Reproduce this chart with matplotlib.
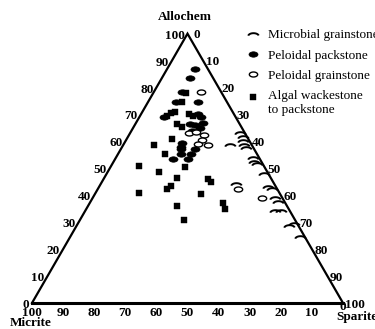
import numpy as np
import matplotlib
matplotlib.use("Agg")
import matplotlib.pyplot as plt
from matplotlib.path import Path
from matplotlib.transforms import Affine2D
from matplotlib.legend_handler import HandlerLine2D

plt.rcParams["font.family"] = ["Liberation Serif", "DejaVu Serif"]

# ternary composition in percent: (Allochem, Sparite), Micrite = remainder
microbial_allochem = [63, 58.5, 61.5, 60, 58.5, 57.5, 54, 52.5, 51.5, 48, 44, 43, 42.5,
                      39, 37.5, 34, 34, 28.5, 29.5, 24.5]
microbial_sparite = [35.5, 34.5, 37, 38, 39, 40, 44, 45, 46.5, 50.5, 43.5, 54.5, 56,
                     58.5, 60.5, 61, 63, 68.5, 69.5, 74]

packstone_allochem = [87, 83.5, 78.5, 74.5, 74.5, 69, 70, 69, 66.5, 66, 65, 67, 64,
                      59.5, 58, 57, 55.5, 53.5, 57, 55.5, 53.5]
packstone_sparite = [9, 9, 9, 16, 9, 8, 18.5, 20, 17.5, 19.5, 21.5, 21.5, 19.5,
                     18.5, 19, 19.5, 20, 18.5, 24, 23.5, 23.5]

grainstone_allochem = [78.5, 63, 63.5, 62.5, 60.5, 59, 58.5, 42.5, 39]
grainstone_sparite = [15, 19, 21, 24, 24.5, 24, 27.5, 45, 54.5]

algal_allochem = [78, 74.5, 71, 70.5, 69.5, 70, 69.5, 66.5, 65.5, 61, 55.5, 50.5, 58.5,
                  51, 48.5, 46.5, 42.5, 43.5, 41, 46, 45, 40.5, 36, 31, 37, 35]
algal_sparite = [10.5, 11, 10.5, 9.5, 8.5, 15.5, 17, 13.5, 15.5, 14.5, 15, 24, 10,
                 9, 16.5, 23.5, 22, 23, 14, 33.5, 35, 34, 28.5, 33.5, 43, 44.5]

ticks = list(range(0, 101, 10))

SQ3 = np.sqrt(3) / 2


def to_xy(allochem, sparite):
    a = np.asarray(allochem, dtype=float) / 100.0
    s = np.asarray(sparite, dtype=float) / 100.0
    return s + a / 2, a * SQ3


W, H = 375, 329
X0, Y0, SIDE = 32, 303, 311   # triangle left corner and side length in pixels
PX = 1.0 / SIDE

fig = plt.figure(figsize=(W / 100, H / 100), dpi=100)
ax = fig.add_axes([0, 0, 1, 1])
ax.set_xlim(-X0 * PX, (W - X0) * PX)
ax.set_ylim(-(H - Y0) * PX, Y0 * PX)
ax.axis("off")


def pix(px, py):
    return (px - X0) * PX, (Y0 - py) * PX


# triangle
ax.plot([0, 0.5, 1], [0, SQ3, 0], color="k", lw=1.6, solid_joinstyle="miter", zorder=2)
ax.plot([0, 1], [0, 0], color="k", lw=2.2, solid_capstyle="projecting", zorder=2)

# tick labels
tick_kw = dict(fontsize=9.5, fontweight="bold", color="k")
for v in ticks:
    x, y = to_xy(v, 0)                       # Allochem on left side
    ax.text(x - 3 * PX, y - 2 * PX, str(v), ha="right", va="center", **tick_kw)
    x, y = to_xy(100 - v, v)                 # Sparite on right side
    dx = 6 if v == 0 else 2.5
    ax.text(x + dx * PX, y - 1.5 * PX, str(v), ha="left", va="center", **tick_kw)
    x, y = to_xy(0, 100 - v)                 # Micrite along bottom
    dy = 4 if v == 0 else 10
    ax.text(x, y - dy * PX, str(v), ha="center", va="center", **tick_kw)

lab_kw = dict(fontsize=9.5, fontweight="bold", color="k")
ax.text(*pix(185, 17), "Allochem", ha="center", va="center", **lab_kw)
ax.text(*pix(31, 323), "Micrite", ha="center", va="center", **lab_kw)
ax.text(*pix(336, 317), "Sparite", ha="left", va="center", **lab_kw)

# markers
t = np.linspace(np.radians(12), np.radians(172), 30)
arc_marker = Path(np.column_stack([np.cos(t), 0.55 * np.sin(t) - 0.3]))
ellipse_marker = Path.unit_circle().transformed(Affine2D().scale(1, 0.6))

x, y = to_xy(microbial_allochem, microbial_sparite)
ax.plot(x, y, ls="none", marker=arc_marker, ms=7.5, mfc="none", mec="k", mew=1.4,
        zorder=3, label="Microbial grainstone")
x, y = to_xy(packstone_allochem, packstone_sparite)
ax.plot(x, y, ls="none", marker=ellipse_marker, ms=6.5, mfc="k", mec="k", mew=0.5,
        zorder=3, label="Peloidal packstone")
x, y = to_xy(grainstone_allochem, grainstone_sparite)
ax.plot(x, y, ls="none", marker=ellipse_marker, ms=6, mfc="white", mec="k", mew=1.0,
        zorder=4, label="Peloidal grainstone")
x, y = to_xy(algal_allochem, algal_sparite)
algal_line, = ax.plot(x, y, ls="none", marker="s", ms=4.8, mfc="k", mec="k", mew=0.3,
                      zorder=3, label="Algal wackestone\nto packstone")


class HandlerFirstLine(HandlerLine2D):
    """Put the legend key level with the first line of a two-line label."""

    def __init__(self, shift, **kw):
        super().__init__(**kw)
        self.shift = shift

    def create_artists(self, legend, orig_handle, xdescent, ydescent,
                       width, height, fontsize, trans):
        return super().create_artists(legend, orig_handle, xdescent,
                                      ydescent - self.shift, width, height,
                                      fontsize, trans)


ax.legend(loc="upper left", bbox_to_anchor=(246 / W, 1 - 29 / H), frameon=False,
          fontsize=9.5, handlelength=1.0, handletextpad=0.7, labelspacing=0.62,
          borderpad=0, borderaxespad=0, numpoints=1,
          handler_map={algal_line: HandlerFirstLine(8.0)})

fig.savefig("out.png", dpi=100)
